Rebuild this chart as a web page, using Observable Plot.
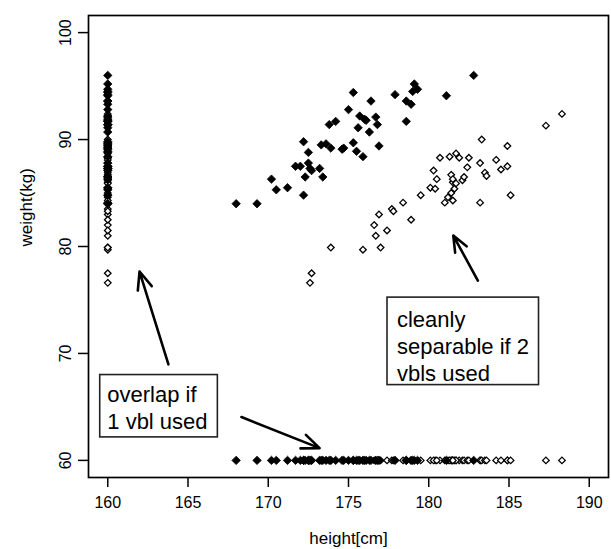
<!DOCTYPE html>
<html><head><meta charset="utf-8">
<script src="https://cdn.jsdelivr.net/npm/d3@7"></script>
<script src="https://cdn.jsdelivr.net/npm/@observablehq/plot@0.6"></script>
<style>body{margin:0;background:#fff} svg{display:block}</style>
</head><body><div id="chart"></div>
<script>
// group 1 (filled markers)
const filledHeight = [168.0,169.3,170.2,170.5,171.2,171.7,172.0,172.2,172.3,172.2,172.5,172.5,172.6,172.7,173.2,173.4,173.3,173.6,173.8,173.9,174.2,174.6,174.7,175.0,175.3,175.3,175.5,175.6,175.7,175.9,176.0,176.1,176.3,176.4,176.7,176.8,176.9,177.9,178.6,178.6,178.9,179.0,179.1,179.3,181.1,182.8];
const filledWeight = [84.0,84.0,86.3,85.3,85.5,87.5,87.5,89.8,86.5,84.8,88.8,87.8,87.3,87.1,87.3,86.5,89.5,89.6,91.4,89.2,91.7,89.1,89.2,92.8,94.4,89.7,88.9,91.1,92.2,88.4,91.9,91.8,90.7,93.6,92.1,91.4,89.4,94.2,93.6,91.7,93.3,94.5,95.2,94.7,94.1,96.0];
// group 2 (open markers)
const openHeight = [172.7,172.6,173.9,175.9,177.0,176.7,176.6,176.9,177.4,177.7,177.8,178.4,178.9,179.5,180.1,180.4,180.3,180.7,180.5,181.0,181.2,181.4,181.4,181.5,181.5,181.3,181.7,181.9,181.6,181.7,182.1,182.2,182.4,182.5,183.2,183.2,183.3,183.5,183.6,184.2,184.5,184.9,184.9,185.1,187.3,188.3,181.5];
const openWeight = [77.5,76.6,79.9,79.7,79.9,81.0,82.0,83.0,81.5,83.5,83.3,84.1,82.5,84.8,85.5,85.4,87.1,88.3,86.3,84.1,84.6,85.0,86.7,86.0,86.3,88.4,88.7,88.3,85.4,85.9,86.2,86.5,87.4,88.3,84.1,87.8,90.0,86.9,86.6,88.1,87.2,87.5,89.4,84.8,91.3,92.4,84.3];

const xTicks = [160,165,170,175,180,185,190];
const yTicks = [60,70,80,90,100];
const xDomain = [158.8,191.2];
const yDomain = [58.4,101.6];
const xLabel = "height[cm]";
const yLabel = "weight(kg)";
// projections of every point onto one variable
const projectX = 160;
const projectY = 60;

// annotations (data units)
const noteText = ["overlap if\n1 vbl used", "cleanly\nseparable if 2\nvbls used"];
const noteBoxX1 = [159.53, 177.43];
const noteBoxX2 = [166.86, 186.87];
const noteBoxY1 = [62.15, 67.04];
const noteBoxY2 = [67.98, 75.22];
const noteTextX = [159.97, 178.02];
const noteTextY = [67.27, 74.25];
const arrowX1 = [163.78, 168.33, 183.06];
const arrowY1 = [68.98, 64.05, 76.81];
const arrowX2 = [161.98, 173.2, 181.53];
const arrowY2 = [77.66, 61.15, 81.02];

const filled = filledHeight.map((h, i) => ({h, w: filledWeight[i]}));
const open = openHeight.map((h, i) => ({h, w: openWeight[i]}));
const notes = noteText.map((t, i) => ({t, x1: noteBoxX1[i], x2: noteBoxX2[i], y1: noteBoxY1[i], y2: noteBoxY2[i], tx: noteTextX[i], ty: noteTextY[i]}));
const arrows = arrowX1.map((x1, i) => ({x1, y1: arrowY1[i], x2: arrowX2[i], y2: arrowY2[i]}));

const diamond = {
  draw(ctx, size) {
    const r = Math.sqrt(size / Math.PI);
    ctx.moveTo(0, -r); ctx.lineTo(r, 0); ctx.lineTo(0, r); ctx.lineTo(-r, 0); ctx.closePath();
  }
};
const openStyle = {symbol: diamond, r: 3.3, stroke: "black", strokeWidth: 1.3, fill: "white"};
const filledStyle = {symbol: diamond, r: 4.2, fill: "black", stroke: "black", strokeWidth: 0.8, strokeLinejoin: "round"};

const chart = Plot.plot({
  width: 611, height: 549,
  marginLeft: 88, marginRight: 3, marginTop: 15, marginBottom: 72,
  x: {domain: xDomain},
  y: {domain: yDomain},
  style: {fontFamily: "'Liberation Sans', Arial, sans-serif", background: "white", color: "black"},
  marks: [
    Plot.frame({stroke: "black", strokeWidth: 1.7}),
    Plot.axisX({ticks: xTicks, tickSize: 10, tickPadding: 9, fontSize: 16, label: null, strokeWidth: 1.5}),
    Plot.axisY({ticks: yTicks, tickSize: 10, tickPadding: 8, tickRotate: -90, fontSize: 16, label: null, strokeWidth: 1.5}),
    Plot.text([xLabel], {text: d => d, frameAnchor: "bottom", dy: 61, fontSize: 17, lineAnchor: "middle"}),
    Plot.text([yLabel], {text: d => d, frameAnchor: "left", dx: -62, rotate: -90, fontSize: 17, lineAnchor: "middle"}),
    // scatter
    Plot.dot(open, {x: "h", y: "w", ...openStyle}),
    Plot.dot(filled, {x: "h", y: "w", ...filledStyle}),
    // projection onto weight only
    Plot.dot(open, {x: () => projectX, y: "w", ...openStyle}),
    Plot.dot(filled, {x: () => projectX, y: "w", ...filledStyle}),
    // projection onto height only
    Plot.dot(open, {x: "h", y: () => projectY, ...openStyle}),
    Plot.dot(filled, {x: "h", y: () => projectY, ...filledStyle}),
    // annotations
    Plot.rect(notes, {x1: "x1", x2: "x2", y1: "y1", y2: "y2", fill: "white", stroke: "#222", strokeWidth: 1.6}),
    Plot.text(notes, {x: "tx", y: "ty", text: "t", textAnchor: "start", lineAnchor: "top", fontSize: 22, lineHeight: 1.22, fill: "black"}),
    Plot.arrow(arrows, {x1: "x1", y1: "y1", x2: "x2", y2: "y2", stroke: "black", strokeWidth: 2.6, headLength: 11, headAngle: 45})
  ]
});
document.getElementById("chart").appendChild(chart);
</script>
</body></html>
